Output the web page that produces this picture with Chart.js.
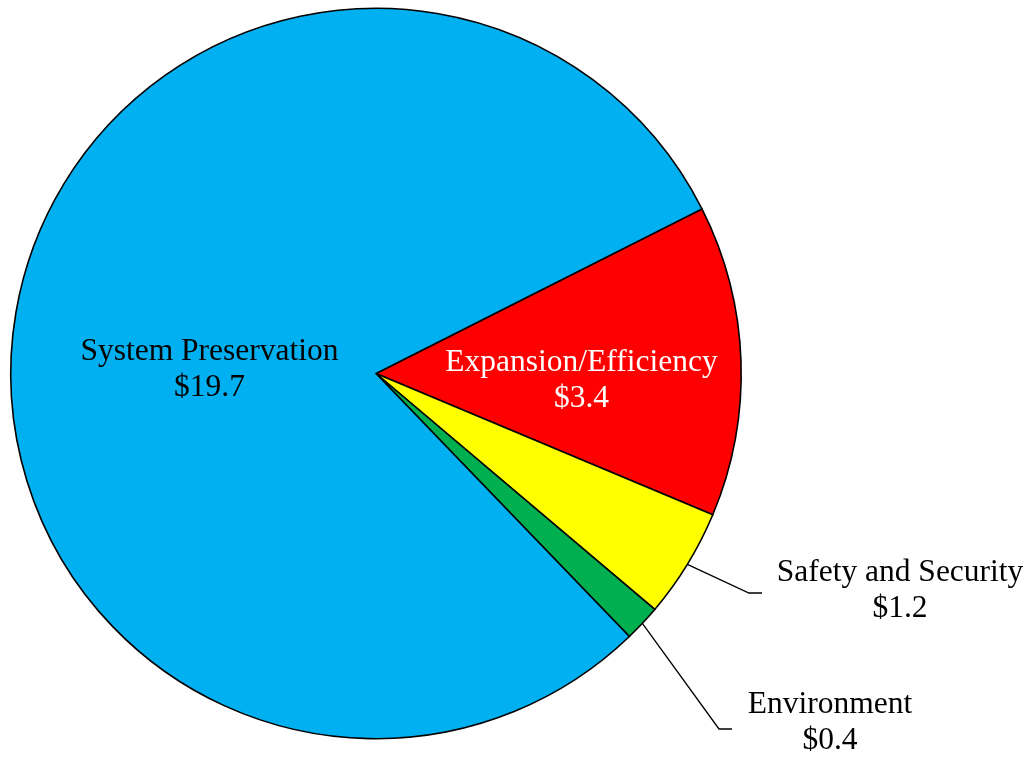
<!DOCTYPE html>
<html>
<head>
<meta charset="utf-8">
<script src="https://cdn.jsdelivr.net/npm/chart.js@4"></script>
<style>
  html, body { margin: 0; padding: 0; background: #ffffff; }
  #wrap { width: 1034px; height: 757px; position: relative; }
</style>
</head>
<body>
<div id="wrap"><canvas id="pie"></canvas></div>
<script>
// Program funding by category (billions of dollars)
const categories = ['Expansion/Efficiency', 'Safety and Security', 'Environment', 'System Preservation'];
const amounts = [3.4, 1.2, 0.4, 19.7];
const valueLabels = ['$3.4', '$1.2', '$0.4', '$19.7'];
const sliceColors = ['#FF0000', '#FFFF00', '#00B050', '#00B0F0'];

// Label placement relative to the pie centre (px): text centre x, first baseline y,
// text colour, and optional leader-line elbow points.
const labelLayout = [
  { dx: 205.5, dy: -2.5, color: '#ffffff' },
  { dx: 524, dy: 207.5, color: '#000000', elbow: [373, 219.5], end: [386, 219.5] },
  { dx: 454, dy: 339.5, color: '#000000', elbow: [343, 355.5], end: [356, 355.5] },
  { dx: -166.5, dy: -13.5, color: '#000000' }
];
const FONT = '31.5px "Liberation Serif", "Times New Roman", serif';
const LINE_GAP = 35.5;

const sliceLabels = {
  id: 'sliceLabels',
  afterDatasetsDraw(chart) {
    const ctx = chart.ctx;
    const arcs = chart.getDatasetMeta(0).data;
    ctx.save();
    ctx.font = FONT;
    ctx.textAlign = 'center';
    ctx.textBaseline = 'alphabetic';
    arcs.forEach((arc, i) => {
      const p = arc.getProps(['x', 'y', 'startAngle', 'endAngle', 'outerRadius']);
      const lay = labelLayout[i];
      if (lay.elbow) {
        const mid = (p.startAngle + p.endAngle) / 2;
        ctx.beginPath();
        ctx.moveTo(p.x + Math.cos(mid) * p.outerRadius, p.y + Math.sin(mid) * p.outerRadius);
        ctx.lineTo(p.x + lay.elbow[0], p.y + lay.elbow[1]);
        ctx.lineTo(p.x + lay.end[0], p.y + lay.end[1]);
        ctx.strokeStyle = '#000000';
        ctx.lineWidth = 1.3;
        ctx.stroke();
      }
      ctx.fillStyle = lay.color;
      ctx.fillText(categories[i], p.x + lay.dx, p.y + lay.dy);
      ctx.fillText(valueLabels[i], p.x + lay.dx, p.y + lay.dy + LINE_GAP);
    });
    ctx.restore();
  }
};

new Chart(document.getElementById('pie'), {
  type: 'pie',
  data: {
    labels: categories,
    datasets: [{
      data: amounts,
      backgroundColor: sliceColors,
      borderColor: '#000000',
      borderWidth: 1.6,
      borderJoinStyle: 'miter'
    }]
  },
  options: {
    responsive: true,
    maintainAspectRatio: false,
    animation: false,
    rotation: 63.2,
    layout: { padding: { left: 10, top: 7, right: 292, bottom: 17 } },
    plugins: {
      legend: { display: false },
      tooltip: { enabled: false }
    }
  },
  plugins: [sliceLabels]
});
</script>
</body>
</html>
